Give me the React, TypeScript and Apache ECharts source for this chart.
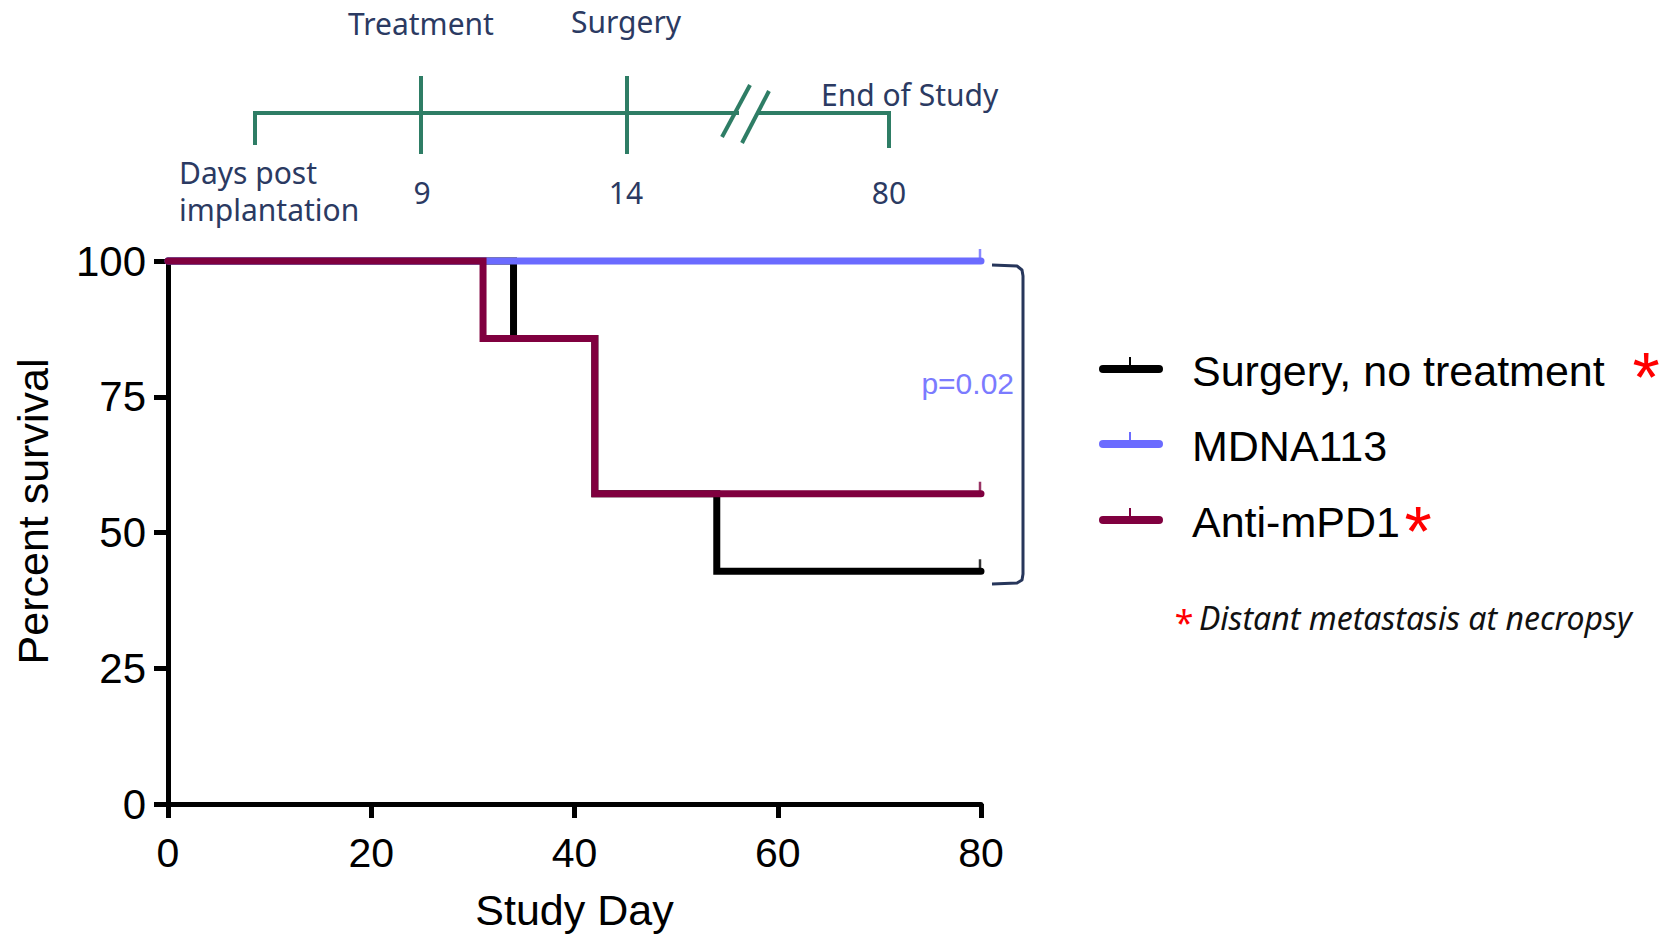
import React, { useEffect, useRef } from "react";
import * as echarts from "echarts";

// ---- data ----
const seriesNames = ["Surgery, no treatment", "MDNA113", "Anti-mPD1"];
const seriesColors = ["#000000", "#6b6bff", "#80003f"];
const surgeryDays = [0, 34, 42, 54, 80];
const surgerySurvival = [100, 85.71, 57.14, 42.86, 42.86];
const mdnaDays = [0, 80];
const mdnaSurvival = [100, 100];
const antiDays = [0, 31, 42, 80];
const antiSurvival = [100, 85.71, 57.14, 57.14];
const xTicks = { min: 0, max: 80, interval: 20 };
const yTicks = { min: 0, max: 100, interval: 25 };
const timelineLabels = ["Treatment", "Surgery", "End of Study"];
const timelineDays = ["9", "14", "80"];
const pValueText = "p=0.02";
const metastasisFlags = [true, false, true];

const AXIS_FONT = "'Liberation Sans', Arial, sans-serif";
const TL_FONT = "'Noto Sans', 'Open Sans', sans-serif";
const NAVY = "#2b3a62";
const GREEN = "#2e7d65";

function pairs(xs: number[], ys: number[]) {
  return xs.map((x, i) => [x, ys[i]]);
}

export default function App() {
  const ref = useRef<HTMLDivElement>(null);
  useEffect(() => {
    if (!ref.current) return;
    const chart = echarts.init(ref.current, null, { renderer: "svg" });
    const curves = [
      pairs(surgeryDays, surgerySurvival),
      pairs(mdnaDays, mdnaSurvival),
      pairs(antiDays, antiSurvival),
    ];
    const lineSeries: any[] = curves.map((d, i) => ({
      type: "line",
      name: seriesNames[i],
      data: d,
      step: "end",
      symbol: "none",
      clip: false,
      z: 3 + i,
      lineStyle: { color: seriesColors[i], width: 7, cap: "round", join: "miter" },
    }));
    const censorSeries: any[] = curves.map((d, i) => ({
      type: "scatter",
      name: seriesNames[i] + " censored",
      data: [d[d.length - 1]],
      symbol: "rect",
      symbolSize: [2.5, 12],
      symbolOffset: [-1, -6],
      clip: false,
      z: 3 + i,
      itemStyle: { color: seriesColors[i] },
    }));

    // Legend (graphic)
    const legendRows = [371, 446, 522];
    const legendEls: any[] = [];
    seriesNames.forEach((n, i) => {
      const y = legendRows[i];
      legendEls.push({
        type: "line",
        shape: { x1: 1103, y1: y - 2, x2: 1159, y2: y - 2 },
        style: { stroke: seriesColors[i], lineWidth: 8, lineCap: "round" },
      });
      legendEls.push({
        type: "rect",
        shape: { x: 1129, y: y - 14, width: 2, height: 10 },
        style: { fill: seriesColors[i] },
      });
      legendEls.push({
        type: "text",
        x: 1192,
        y: y,
        style: {
          text: n,
          font: `43px ${AXIS_FONT}`,
          fill: "#000",
          verticalAlign: "middle",
          textAlign: "left",
        },
      });
    });
    const starX = [1646, 0, 1418];
    const starY = [378, 0, 532];
    metastasisFlags.forEach((f, i) => {
      if (!f) return;
      legendEls.push({
        type: "text",
        x: starX[i],
        y: starY[i],
        style: {
          text: "*",
          font: `70px ${AXIS_FONT}`,
          fill: "#ff0000",
          verticalAlign: "middle",
          textAlign: "center",
        },
      });
    });
    legendEls.push({
      type: "text",
      x: 1184,
      y: 622,
      style: {
        text: "*",
        font: `34px ${TL_FONT}`,
        fill: "#ff0000",
        verticalAlign: "middle",
        textAlign: "center",
      },
    });
    legendEls.push({
      type: "text",
      x: 1199,
      y: 617,
      style: {
        text: "Distant metastasis at necropsy",
        font: `italic 32px ${TL_FONT}`,
        fill: "#111111",
        verticalAlign: "middle",
        textAlign: "left",
      },
    });

    // Timeline (graphic)
    const tl: any[] = [];
    const tlStroke = { stroke: GREEN, lineWidth: 4 };
    tl.push({ type: "line", shape: { x1: 255, y1: 113, x2: 739, y2: 113 }, style: tlStroke });
    tl.push({ type: "line", shape: { x1: 758, y1: 113, x2: 889, y2: 113 }, style: tlStroke });
    tl.push({ type: "line", shape: { x1: 255, y1: 111, x2: 255, y2: 145 }, style: tlStroke });
    tl.push({ type: "line", shape: { x1: 421, y1: 76, x2: 421, y2: 154 }, style: tlStroke });
    tl.push({ type: "line", shape: { x1: 627, y1: 76, x2: 627, y2: 154 }, style: tlStroke });
    tl.push({ type: "line", shape: { x1: 889, y1: 111, x2: 889, y2: 148 }, style: tlStroke });
    tl.push({ type: "line", shape: { x1: 722, y1: 137, x2: 750, y2: 85 }, style: tlStroke });
    tl.push({ type: "line", shape: { x1: 742, y1: 143, x2: 769, y2: 91 }, style: tlStroke });
    const tlText = (text: string, x: number, y: number, align = "center") => ({
      type: "text",
      x,
      y,
      style: {
        text,
        font: `30px ${TL_FONT}`,
        fill: NAVY,
        textAlign: align,
        verticalAlign: "middle",
      },
    });
    tl.push(tlText(timelineLabels[0], 421, 23));
    tl.push(tlText(timelineLabels[1], 626, 21));
    tl.push(tlText(timelineLabels[2], 821, 94, "left"));
    tl.push(tlText("Days post", 179, 172, "left"));
    tl.push(tlText("implantation", 179, 209, "left"));
    tl.push(tlText(timelineDays[0], 422, 192));
    tl.push(tlText(timelineDays[1], 626, 192));
    tl.push(tlText(timelineDays[2], 889, 192));

    // Bracket + p-value
    const bracket: any[] = [
      {
        type: "polyline",
        shape: {
          points: [
            [992, 265],
            [1017, 266],
            [1022, 270],
            [1023, 276],
            [1023, 574],
            [1022, 580],
            [1017, 583],
            [992, 584],
          ],
        },
        style: { stroke: "#27365b", lineWidth: 3, fill: null, lineJoin: "round" },
      },
      {
        type: "text",
        x: 1014,
        y: 383,
        style: {
          text: pValueText,
          font: `30px ${AXIS_FONT}`,
          fill: "#7b7bff",
          textAlign: "right",
          verticalAlign: "middle",
        },
      },
    ];

    chart.setOption({
      animation: false,
      backgroundColor: "#ffffff",
      grid: { left: 168, right: 1675 - 981, top: 261, bottom: 936 - 805, containLabel: false },
      xAxis: {
        type: "value",
        min: xTicks.min,
        max: xTicks.max,
        interval: xTicks.interval,
        name: "Study Day",
        nameLocation: "middle",
        nameGap: 84,
        nameTextStyle: { fontSize: 43, fontFamily: AXIS_FONT, color: "#000" },
        axisLine: { lineStyle: { color: "#000", width: 5 } },
        axisTick: { length: 14, lineStyle: { color: "#000", width: 5 } },
        axisLabel: { fontSize: 41, fontFamily: AXIS_FONT, color: "#000", margin: 28 },
        splitLine: { show: false },
      },
      yAxis: {
        type: "value",
        min: yTicks.min,
        max: yTicks.max,
        interval: yTicks.interval,
        name: "Percent survival",
        nameLocation: "middle",
        nameGap: 114,
        nameTextStyle: {
          fontSize: 43,
          fontFamily: AXIS_FONT,
          color: "#000",
          padding: [0, 0, 0, 42],
        },
        axisLine: { show: true, lineStyle: { color: "#000", width: 5 } },
        axisTick: { show: true, length: 14, lineStyle: { color: "#000", width: 5 } },
        axisLabel: { fontSize: 42, fontFamily: AXIS_FONT, color: "#000", margin: 22 },
        splitLine: { show: false },
      },
      series: [...lineSeries, ...censorSeries],
      graphic: [...tl, ...bracket, ...legendEls],
    });
    return () => chart.dispose();
  }, []);
  return (
    <div
      ref={ref}
      style={{ position: "fixed", left: 0, top: 0, width: 1675, height: 936, background: "#fff" }}
    />
  );
}
